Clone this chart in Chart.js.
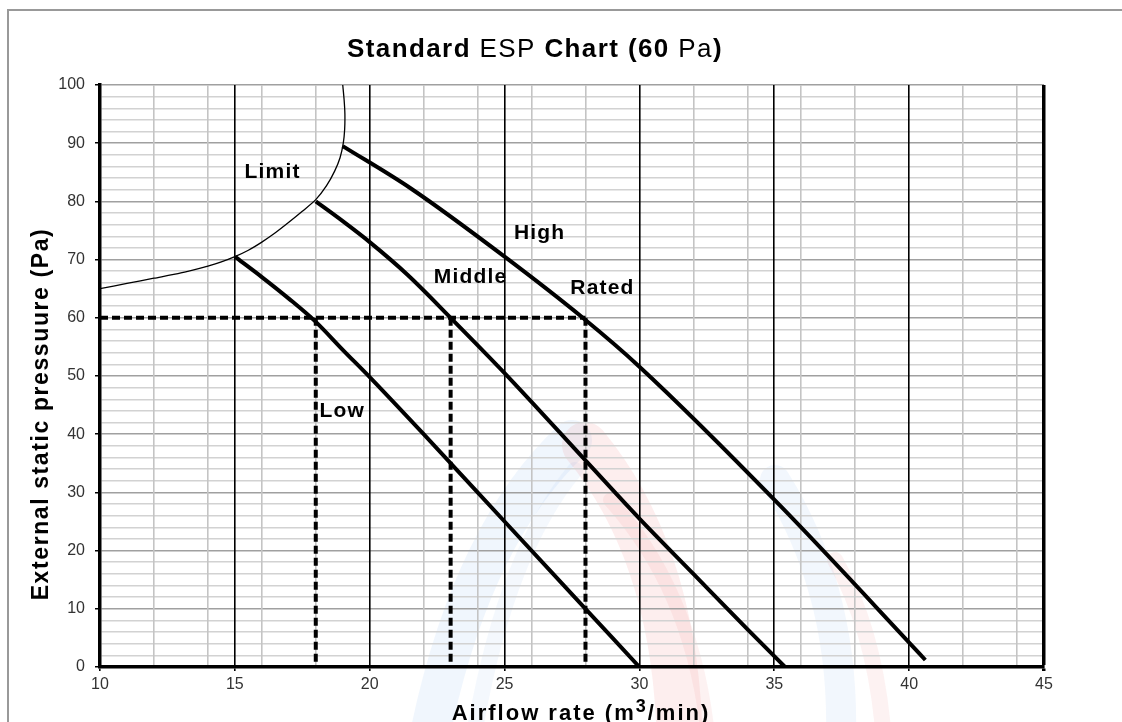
<!DOCTYPE html>
<html>
<head>
<meta charset="utf-8">
<script src="https://cdn.jsdelivr.net/npm/chart.js"></script>
<style>
  body { margin: 0; background: #fff; }
  #wrap { width: 1122px; height: 722px; }
</style>
</head>
<body>
<div id="wrap"><canvas id="espChart" width="1122" height="722"></canvas></div>
<script>
// fan curves (airflow m3/min, pressure Pa)
const lowX = [15, 16, 17, 18, 19, 20, 22, 25, 28, 30];
const lowY = [70.5, 67, 63.3, 59.3, 54.5, 49.8, 40, 25, 10, 0];

const middleX = [18, 19, 20, 21.4, 23, 25, 28, 30, 32, 34, 35.4];
const middleY = [80, 76.6, 73, 67.4, 60, 50.5, 35.5, 25.5, 16, 6.5, 0];

const highX = [19, 21.5, 25, 27.9, 30, 35.2, 40, 40.6];
const highY = [89.5, 82.3, 70.5, 60, 51.6, 27.8, 4.2, 1.2];

const limitX = [10, 11, 12, 13, 14, 14.5, 15, 15.5, 16, 16.5, 17, 17.5, 18, 18.4, 18.7, 18.9, 19.02, 19.07, 19.08, 19.05, 19];
const limitY = [65, 65.9, 66.8, 67.7, 68.9, 69.6, 70.5, 71.6, 73, 74.6, 76.4, 78.3, 80.3, 82.7, 85.2, 87.5, 90, 92.3, 95, 97.5, 100];

// rated point lines at 60 Pa
const ratedPressure = 60;
const ratedX = [18, 23, 28];

const xTicks = [10, 15, 20, 25, 30, 35, 40, 45];
const yTicks = [0, 10, 20, 30, 40, 50, 60, 70, 80, 90, 100];

const pts = (xs, ys) => xs.map((x, i) => ({ x: x, y: ys[i] }));

const curve = (data, width, smooth) => ({
    data: data,
    showLine: true,
    borderColor: '#000',
    borderWidth: width,
    pointRadius: 0,
    tension: smooth === 'monotone' ? 0.4 : smooth,
    cubicInterpolationMode: smooth === 'monotone' ? 'monotone' : 'default',
    fill: false
});

const dashed = (data) => ({
    data: data,
    showLine: true,
    borderColor: '#000',
    borderWidth: 4,
    borderDash: [8, 4],
    pointRadius: 0,
    fill: false
});

const datasets = [
    curve(pts(limitX, limitY), 1.3, 0.25),
    curve(pts(lowX, lowY), 4, 'monotone'),
    curve(pts(middleX, middleY), 4, 'monotone'),
    curve(pts(highX, highY), 4, 'monotone'),
    dashed([{ x: xTicks[0], y: ratedPressure }, { x: Math.max(...ratedX), y: ratedPressure }])
];
ratedX.forEach(x => datasets.push(dashed([{ x: x, y: ratedPressure }, { x: x, y: 0 }])));

// text written with a bit of spacing, piece by piece
function drawSpaced(ctx, parts, x, y, align) {
    let total = 0;
    parts.forEach(p => {
        ctx.font = p.font;
        ctx.letterSpacing = p.spacing || '0px';
        p.w = ctx.measureText(p.text).width;
        total += p.w;
    });
    let cx = align === 'center' ? x - total / 2 : x;
    parts.forEach(p => {
        ctx.font = p.font;
        ctx.letterSpacing = p.spacing || '0px';
        ctx.textAlign = 'left';
        ctx.fillText(p.text, cx, y + (p.dy || 0));
        cx += p.w;
    });
    ctx.letterSpacing = '0px';
}

function swoosh(ctx, color, width, x0, y0, cx, cy, x1, y1) {
    ctx.strokeStyle = color;
    ctx.lineWidth = width;
    ctx.beginPath();
    ctx.moveTo(x0, y0);
    ctx.quadraticCurveTo(cx, cy, x1, y1);
    ctx.stroke();
}

const decorations = {
    id: 'decorations',
    beforeDraw(chart) {
        const ctx = chart.ctx;
        ctx.save();
        ctx.fillStyle = '#fff';
        ctx.fillRect(0, 0, chart.width, chart.height);

        // faint logo in the background
        ctx.lineCap = 'round';
        swoosh(ctx, 'rgba(110, 170, 235, 0.10)', 40, 425, 760, 465, 540, 572, 440);
        swoosh(ctx, 'rgba(110, 170, 235, 0.08)', 16, 470, 760, 500, 560, 575, 470);
        swoosh(ctx, 'rgba(235, 90, 90, 0.10)', 46, 585, 445, 680, 560, 680, 760);
        swoosh(ctx, 'rgba(235, 90, 90, 0.08)', 14, 610, 500, 700, 600, 710, 760);
        swoosh(ctx, 'rgba(110, 170, 235, 0.09)', 30, 775, 480, 850, 600, 840, 760);
        swoosh(ctx, 'rgba(235, 90, 90, 0.08)', 16, 835, 560, 880, 640, 885, 760);

        // outer frame
        ctx.strokeStyle = '#999';
        ctx.lineWidth = 2;
        ctx.beginPath();
        ctx.moveTo(8, chart.height);
        ctx.lineTo(8, 10);
        ctx.lineTo(chart.width, 10);
        ctx.stroke();
        ctx.restore();
    },
    afterDraw(chart) {
        const ctx = chart.ctx;
        const xs = chart.scales.x, ys = chart.scales.y;
        ctx.save();
        ctx.fillStyle = '#000';
        ctx.textBaseline = 'alphabetic';

        const B = 'bold 26px "Liberation Sans", Arial, sans-serif';
        const N = '26px "Liberation Sans", Arial, sans-serif';
        drawSpaced(ctx, [
            { text: 'Standard ', font: B, spacing: '1.4px' },
            { text: 'ESP ', font: N, spacing: '1.4px' },
            { text: 'Chart (', font: B, spacing: '1.4px' },
            { text: '60', font: B, spacing: '1.4px' },
            { text: ' Pa', font: N, spacing: '1.4px' },
            { text: ')', font: B, spacing: '1.4px' }
        ], 535, 57, 'center');

        // y axis title
        ctx.save();
        ctx.translate(48, 414);
        ctx.rotate(-Math.PI / 2);
        drawSpaced(ctx, [
            { text: 'External static pressuure (Pa)', font: 'bold 23px "Liberation Sans", Arial, sans-serif', spacing: '1.6px' }
        ], 0, 0, 'center');
        ctx.restore();

        // x axis title
        const XT = 'bold 22px "Liberation Sans", Arial, sans-serif';
        drawSpaced(ctx, [
            { text: 'Airflow rate (m', font: XT, spacing: '2px' },
            { text: '3', font: 'bold 18px "Liberation Sans", Arial, sans-serif', spacing: '2px', dy: -8 },
            { text: '/min)', font: XT, spacing: '2px' }
        ], 581, 720, 'center');

        // curve names
        const LF = 'bold 21px "Liberation Sans", Arial, sans-serif';
        [['Limit', 16.4, 84], ['High', 26.3, 73.5], ['Middle', 23.74, 65.9],
         ['Rated', 28.63, 64.1], ['Low', 18.98, 43]].forEach(l => {
            drawSpaced(ctx, [{ text: l[0], font: LF, spacing: '1.2px' }],
                xs.getPixelForValue(l[1]), ys.getPixelForValue(l[2]), 'center');
        });
        ctx.restore();
    }
};

new Chart(document.getElementById('espChart'), {
    type: 'scatter',
    data: { datasets: datasets },
    options: {
        responsive: false,
        animation: false,
        layout: { padding: { left: 40, top: 85, right: 78, bottom: 0 } },
        plugins: {
            legend: { display: false },
            tooltip: { enabled: false }
        },
        scales: {
            x: {
                type: 'linear',
                min: xTicks[0],
                max: xTicks[xTicks.length - 1],
                afterFit: (s) => { s.height = 55; },
                afterBuildTicks: (s) => {
                    const t = [];
                    for (let v = s.min; v <= s.max; v++) t.push({ value: v });
                    s.ticks = t;
                },
                ticks: {
                    autoSkip: false,
                    maxRotation: 0,
                    padding: 4,
                    color: '#333',
                    font: { family: '"Liberation Sans", Arial, sans-serif', size: 16 },
                    callback: (v) => xTicks.includes(v) ? v : ''
                },
                grid: {
                    z: -1,
                    tickLength: 4,
                    color: (c) => {
                        const v = c.tick.value;
                        if (v === 10) return 'rgba(0,0,0,0)';
                        if (v % 5 === 0) return '#000';
                        if (v % 2 === 0) return '#c4c4c4';
                        return 'rgba(0,0,0,0)';
                    },
                    lineWidth: (c) => c.tick.value === 45 ? 3.5 : 1.6,
                    tickColor: (c) => c.tick.value % 5 === 0 ? '#000' : 'rgba(0,0,0,0)'
                },
                border: { color: '#000', width: 3.5 }
            },
            y: {
                type: 'linear',
                min: yTicks[0],
                max: yTicks[yTicks.length - 1],
                afterFit: (s) => { s.width = 60; },
                afterBuildTicks: (s) => {
                    const t = [];
                    for (let v = s.min; v <= s.max; v += 2) t.push({ value: v });
                    s.ticks = t;
                },
                ticks: {
                    autoSkip: false,
                    padding: 10,
                    color: '#333',
                    font: { family: '"Liberation Sans", Arial, sans-serif', size: 16 },
                    callback: (v) => yTicks.includes(v) ? v : ''
                },
                grid: {
                    z: -2,
                    tickLength: 5,
                    color: (c) => {
                        const v = c.tick.value;
                        if (v === 0) return 'rgba(0,0,0,0)';
                        return v % 10 === 0 ? '#a0a0a0' : '#d2d2d2';
                    },
                    lineWidth: 1.5,
                    tickColor: (c) => c.tick.value % 10 === 0 ? '#000' : 'rgba(0,0,0,0)'
                },
                border: { color: '#000', width: 3.5 }
            }
        }
    },
    plugins: [decorations]
});
</script>
</body>
</html>
